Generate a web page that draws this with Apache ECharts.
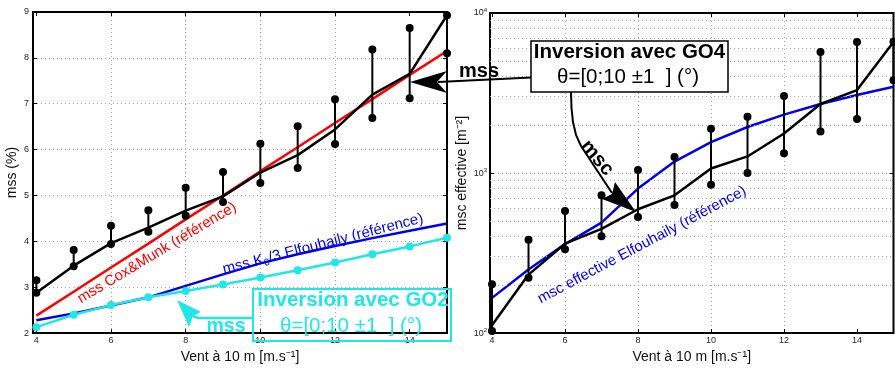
<!DOCTYPE html>
<html><head><meta charset="utf-8">
<script src="https://cdn.jsdelivr.net/npm/echarts@6/dist/echarts.min.js"></script>
<style>html,body{margin:0;padding:0;background:#fff}#c{width:895px;height:369px}</style>
</head><body><div id="c"></div>
<script>
// ---------- data ----------
const windSpeeds = [4, 5, 6, 7, 8, 9, 10, 11, 12, 13, 14, 15];
const xTickValues = [4, 6, 8, 10, 12, 14];
const logMinorTicks = [200, 300, 400, 500, 600, 700, 800, 900, 2000, 3000, 4000, 5000, 6000, 7000, 8000, 9000];

// left panel: mss (%)
const mssMean  = [2.88, 3.47, 3.96, 4.30, 4.67, 4.98, 5.50, 5.88, 6.44, 7.20, 7.65, 8.93];
const mssLow   = [2.88, 3.46, 3.94, 4.21, 4.56, 4.86, 5.27, 5.60, 6.12, 6.69, 7.12, 8.10];
const mssHigh  = [3.15, 3.81, 4.34, 4.68, 5.17, 5.51, 6.13, 6.51, 7.10, 8.18, 8.65, 8.93];
const mssCoxMunk    = [2.38, 2.90, 3.43, 3.95, 4.48, 5.00, 5.53, 6.05, 6.58, 7.10, 7.63, 8.15];
const mssElfouhaily = [2.28, 2.43, 2.60, 2.78, 3.03, 3.28, 3.52, 3.72, 3.90, 4.07, 4.23, 4.39];
const mssGO2        = [2.13, 2.40, 2.61, 2.78, 2.92, 3.06, 3.21, 3.37, 3.54, 3.72, 3.89, 4.08];

// right panel: msc effective (m^-2)
const mscMean = [112, 232, 362, 448, 594, 726, 1067, 1270, 1766, 2700, 3300, 6600];
const mscLow  = [103, 222, 334, 403, 532, 631, 844, 1000, 1330, 1815, 2180, 3800];
const mscHigh = [202, 383, 579, 726, 1043, 1259, 1893, 2245, 3030, 5710, 6600, 6620];
const mscElfouhaily = [166, 250, 360, 490, 800, 1180, 1560, 1940, 2317, 2700, 3075, 3460];

// ---------- chart ----------
const FONT = "'Liberation Sans', Arial, Helvetica, sans-serif";
const CYAN = '#20e6e6', RED = '#ff0000', BLUE = '#0000f0', BLACK = '#000000';
const pair = ys => windSpeeds.map((x, i) => [x, ys[i]]);
const errData = (lo, hi) => windSpeeds.map((x, i) => [x, lo[i], hi[i]]);
const gridLine = { color: '#a6a6a6', type: [1, 3], width: 1 };

const chart = echarts.init(document.getElementById('c'));

function bottomX(gridIndex, min) {
  return {
    type: 'value', gridIndex, min, max: 15, position: 'bottom',
    axisLine: { show: false },
    axisTick: { show: true, inside: true, length: 4, customValues: xTickValues, lineStyle: { color: BLACK } },
    axisLabel: { customValues: xTickValues, fontSize: 9, color: '#222', margin: 3, fontFamily: FONT },
    splitLine: { show: true, showMinLine: false, showMaxLine: false, lineStyle: gridLine },
    name: 'Vent à 10 m [m.s⁻¹]', nameLocation: 'middle', nameGap: 13,
    nameTextStyle: { fontSize: 14, color: '#111', fontFamily: FONT }
  };
}
function topX(gridIndex, min) {
  return {
    type: 'value', gridIndex, min, max: 15, position: 'top',
    axisLine: { show: false },
    axisTick: { show: true, inside: true, length: 4, customValues: xTickValues, lineStyle: { color: BLACK } },
    axisLabel: { show: false }, splitLine: { show: false }
  };
}

function errorBarSeries(xi, yi, lo, hi) {
  return {
    type: 'custom', xAxisIndex: xi, yAxisIndex: yi, z: 5, silent: true,
    data: errData(lo, hi),
    renderItem: (params, api) => {
      const x = api.value(0);
      const p1 = api.coord([x, api.value(1)]);
      const p2 = api.coord([x, api.value(2)]);
      return { type: 'line', shape: { x1: p1[0], y1: p1[1], x2: p2[0], y2: p2[1] },
               style: { stroke: BLACK, lineWidth: 2 } };
    }
  };
}
function dots(xi, yi, ys, color, size) {
  return { type: 'scatter', xAxisIndex: xi, yAxisIndex: yi, data: pair(ys), symbol: 'circle',
           symbolSize: size, itemStyle: { color, opacity: 1 }, z: 6, silent: true };
}
function plainLine(xi, yi, ys, color, w, z) {
  return { type: 'line', xAxisIndex: xi, yAxisIndex: yi, data: pair(ys), showSymbol: false, symbol: 'none',
           lineStyle: { color, width: w, opacity: 1 }, z: z || 3, silent: true };
}

const txt = (x, y, text, o) => Object.assign({
  type: 'text', x, y, z: 100, silent: true,
  style: Object.assign({ text, align: 'center', verticalAlign: 'middle', fontFamily: FONT }, o.style)
}, o.el || {});

const option = {
  animation: false,
  backgroundColor: '#fff',
  textStyle: { fontFamily: FONT },
  grid: [
    { left: 33, top: 12, width: 414, height: 328, show: true, borderColor: BLACK, borderWidth: 2, backgroundColor: 'transparent' },
    { left: 490, top: 13, width: 403.5, height: 326, show: true, borderColor: BLACK, borderWidth: 2, backgroundColor: 'transparent' }
  ],
  xAxis: [ bottomX(0, 3.91), bottomX(1, 3.945), topX(0, 3.91), topX(1, 3.945) ],
  yAxis: [
    { type: 'value', gridIndex: 0, min: 2, max: 9, interval: 1, position: 'left',
      axisLine: { show: false },
      axisTick: { show: true, inside: true, length: 4, lineStyle: { color: BLACK } },
      axisLabel: { fontSize: 9, color: '#222', margin: 4, fontFamily: FONT },
      splitLine: { show: true, showMinLine: false, showMaxLine: false, lineStyle: gridLine },
      name: 'mss (%)', nameLocation: 'middle', nameGap: 14,
      nameTextStyle: { fontSize: 14, color: '#111', fontFamily: FONT } },
    { type: 'log', logBase: 10, gridIndex: 1, min: 100, max: 10000, position: 'left',
      axisLine: { show: false },
      axisTick: { show: true, inside: true, length: 4, lineStyle: { color: BLACK } },
      axisLabel: { fontSize: 9, color: '#222', margin: 3, fontFamily: FONT,
        formatter: v => '10{s|' + Math.round(Math.log10(v)) + '}',
        rich: { s: { fontSize: 6, color: '#222', verticalAlign: 'top', padding: [0, 0, 6, 0] } } },
      splitLine: { show: true, showMinLine: false, showMaxLine: false, lineStyle: gridLine },
      name: 'msc effective [m⁻²]', nameLocation: 'middle', nameGap: 21,
      nameTextStyle: { fontSize: 14, color: '#111', fontFamily: FONT } },
    { type: 'value', gridIndex: 0, min: 2, max: 9, interval: 1, position: 'right',
      axisLine: { show: false }, axisLabel: { show: false }, splitLine: { show: false },
      axisTick: { show: true, inside: true, length: 4, lineStyle: { color: BLACK } } },
    { type: 'log', logBase: 10, gridIndex: 1, min: 100, max: 10000, position: 'right',
      axisLine: { show: false }, axisLabel: { show: false }, splitLine: { show: false },
      axisTick: { show: true, inside: true, length: 4, lineStyle: { color: BLACK } } }
  ],
  series: [
    // left panel
    plainLine(0, 0, mssCoxMunk, RED, 2.5),
    plainLine(0, 0, mssElfouhaily, BLUE, 2.5),
    { type: 'line', xAxisIndex: 0, yAxisIndex: 0, data: pair(mssGO2), symbol: 'circle', symbolSize: 8,
      showSymbol: true, lineStyle: { color: CYAN, width: 2.5 }, itemStyle: { color: CYAN, opacity: 1 }, z: 4, silent: true },
    plainLine(0, 0, mssMean, BLACK, 2.5, 5),
    errorBarSeries(0, 0, mssLow, mssHigh),
    dots(0, 0, mssLow, BLACK, 8),
    dots(0, 0, mssHigh, BLACK, 8),
    // right panel
    Object.assign(plainLine(1, 1, mscElfouhaily, BLUE, 2.5), {
      markLine: { silent: true, symbol: 'none', label: { show: false },
        lineStyle: gridLine, emphasis: { disabled: true },
        data: logMinorTicks.map(v => ({ yAxis: v })) } }),
    plainLine(1, 1, mscMean, BLACK, 2.5, 5),
    errorBarSeries(1, 1, mscLow, mscHigh),
    dots(1, 1, mscLow, BLACK, 8),
    dots(1, 1, mscHigh, BLACK, 8)
  ],
  graphic: { elements: [
    // rotated reference labels
    txt(157, 253, 'mss Cox&Munk (référence)', { style: { fill: RED, fontSize: 15 }, el: { rotation: 31 * Math.PI / 180 } }),
    txt(323, 244, '{n|mss K}{s|0}{n|/3 Elfouhaily (référence)}', {
      style: { fill: BLUE, fontSize: 15,
        rich: { n: { fontSize: 15, fill: BLUE, lineHeight: 18 }, s: { fontSize: 10, fill: BLUE, lineHeight: 10, verticalAlign: 'bottom' } } },
      el: { rotation: 14.5 * Math.PI / 180 } }),
    txt(642, 245, 'msc effective Elfouhaily (référence)', { style: { fill: BLUE, fontSize: 15 }, el: { rotation: 28 * Math.PI / 180 } }),
    // cyan GO2 box + arrow
    { type: 'rect', z: 100, silent: true, shape: { x: 253, y: 289, width: 198, height: 52 }, style: { fill: 'none', stroke: CYAN, lineWidth: 2 } },
    txt(353, 300.5, 'Inversion avec GO2', { style: { fill: CYAN, fontSize: 20.5, fontWeight: 'bold' } }),
    txt(351, 326, 'θ=[0;10 ±1  ] (°)', { style: { fill: CYAN, fontSize: 20.5 } }),
    txt(226, 327, 'mss', { style: { fill: CYAN, fontSize: 19.5, fontWeight: 'bold' } }),
    { type: 'polyline', z: 100, silent: true, shape: { points: [[253, 318], [198, 318], [193, 316]] }, style: { stroke: CYAN, lineWidth: 2.5, fill: 'none' } },
    { type: 'polygon', z: 100, silent: true, shape: { points: [[177, 300], [201, 312], [193, 316], [189, 327]] }, style: { fill: CYAN } },
    // black GO4 box
    { type: 'polyline', z: 100, silent: true, shape: { points: [[438, 82], [531, 77.5]] }, style: { stroke: BLACK, lineWidth: 2, fill: 'none' } },
    { type: 'polygon', z: 100, silent: true, shape: { points: [[410, 82], [447, 71], [437, 82], [447, 93]] }, style: { fill: BLACK } },
    txt(479, 71, 'mss', { style: { fill: BLACK, fontSize: 20, fontWeight: 'bold' } }),
    { type: 'polyline', z: 100, silent: true, shape: { points: [[571, 92], [571.5, 108], [573, 122], [576, 135], [581, 146], [612, 193]] }, style: { stroke: BLACK, lineWidth: 2, fill: 'none' } },
    { type: 'polygon', z: 100, silent: true, shape: { points: [[636, 212], [615, 182], [612, 194], [602, 199]] }, style: { fill: BLACK } },
    txt(597, 158, 'msc', { style: { fill: BLACK, fontSize: 20, fontWeight: 'bold' }, el: { rotation: -50 * Math.PI / 180 } }),
    { type: 'rect', z: 101, silent: true, shape: { x: 531, y: 41, width: 197, height: 51 }, style: { fill: '#fff', stroke: BLACK, lineWidth: 1.5 } },
    Object.assign(txt(629.5, 52, 'Inversion avec GO4', { style: { fill: BLACK, fontSize: 20.5, fontWeight: 'bold' } }), { z: 102 }),
    Object.assign(txt(628, 77.5, 'θ=[0;10 ±1  ] (°)', { style: { fill: BLACK, fontSize: 20.5 } }), { z: 102 })
  ] }
};
chart.setOption(option);
</script></body></html>
